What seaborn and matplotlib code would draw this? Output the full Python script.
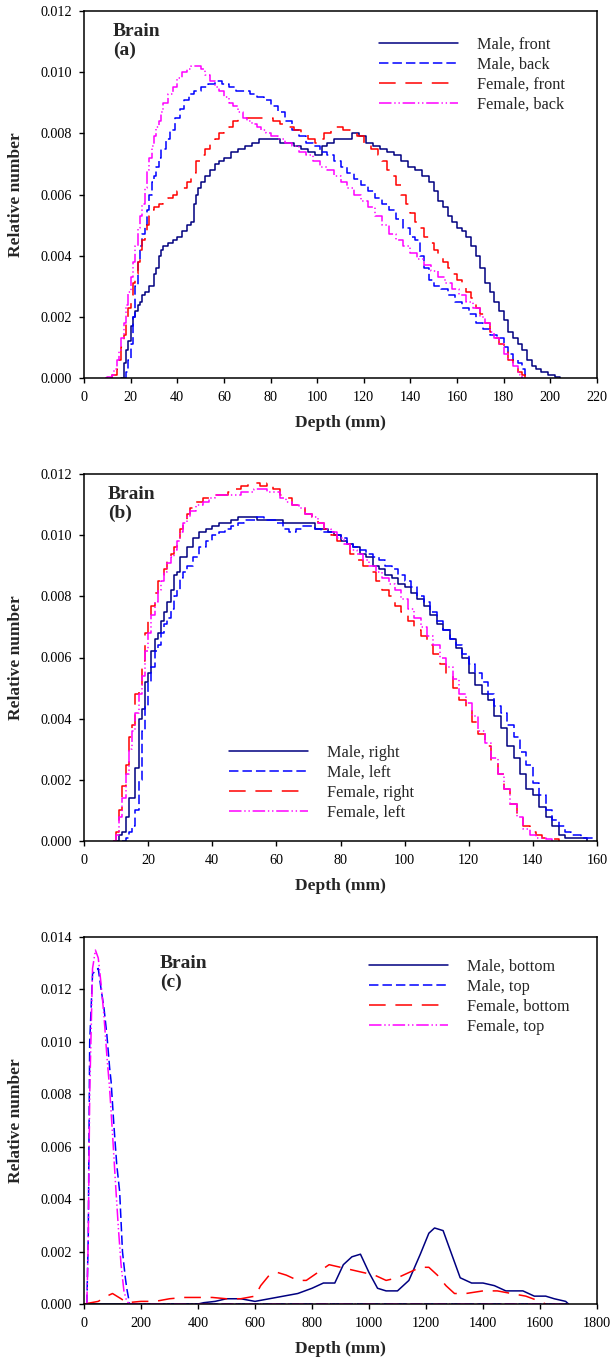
import matplotlib
matplotlib.use("Agg")
import matplotlib.pyplot as plt
import seaborn as sns

# ---------------- Panel (a): front / back ----------------
a_male_front_depth = [16, 17, 18, 19, 20, 21, 22, 23, 24, 25, 26, 28, 30, 31, 32, 33, 34, 36, 38, 40, 42, 44, 46, 47, 48, 49, 50, 52, 54, 56, 58, 60, 63, 66, 69, 72, 75, 78, 81, 84, 87, 90, 93, 96, 99, 101, 102, 104, 107, 110, 113, 115, 118, 121, 124, 127, 130, 133, 136, 139, 142, 145, 148, 150, 152, 154, 156, 158, 160, 162, 164, 166, 168, 170, 172, 174, 176, 178, 180, 182, 184, 186, 188, 190, 192, 194, 196, 199, 202, 204]
a_male_front_value = [0.0, 0.0005, 0.0009, 0.0012, 0.0017, 0.0020, 0.0022, 0.0024, 0.0025, 0.0027, 0.0028, 0.0030, 0.0034, 0.0036, 0.0040, 0.0042, 0.0043, 0.0044, 0.0045, 0.0046, 0.0048, 0.0050, 0.0051, 0.0057, 0.0060, 0.0062, 0.0064, 0.0066, 0.0068, 0.0070, 0.0071, 0.0072, 0.0074, 0.0075, 0.0076, 0.0077, 0.0078, 0.0078, 0.0078, 0.0077, 0.0077, 0.0076, 0.0075, 0.0074, 0.0073, 0.0073, 0.0076, 0.0077, 0.0078, 0.0078, 0.0078, 0.0080, 0.0079, 0.0077, 0.0076, 0.0075, 0.0074, 0.0073, 0.0071, 0.0069, 0.0068, 0.0066, 0.0064, 0.0061, 0.0058, 0.0056, 0.0053, 0.0051, 0.0049, 0.0048, 0.0046, 0.0043, 0.0040, 0.0036, 0.0031, 0.0028, 0.0025, 0.0022, 0.0019, 0.0015, 0.0013, 0.0011, 0.0009, 0.0006, 0.0004, 0.0003, 0.0002, 0.0001, 0.00003, 0.0]

a_male_back_depth = [17, 18, 19, 20, 21, 22, 23, 24, 25, 26, 27, 28, 29, 30, 31, 32, 33, 35, 37, 39, 41, 43, 45, 47, 50, 53, 56, 59, 62, 65, 68, 71, 74, 77, 80, 83, 86, 89, 92, 95, 98, 101, 104, 107, 110, 113, 116, 119, 122, 125, 128, 131, 134, 137, 140, 142, 144, 146, 148, 150, 153, 156, 159, 162, 165, 168, 171, 174, 177, 180, 182, 184, 186, 188, 189, 190]
a_male_back_value = [0.0, 0.0002, 0.0006, 0.0011, 0.0020, 0.0030, 0.0038, 0.0043, 0.0047, 0.0050, 0.0055, 0.0060, 0.0064, 0.0066, 0.0069, 0.0072, 0.0075, 0.0078, 0.0081, 0.0085, 0.0088, 0.0091, 0.0093, 0.0094, 0.0095, 0.0096, 0.0097, 0.0096, 0.0095, 0.0094, 0.0094, 0.0093, 0.0092, 0.0091, 0.0089, 0.0087, 0.0084, 0.0081, 0.0079, 0.0077, 0.0076, 0.0074, 0.0073, 0.0071, 0.0069, 0.0067, 0.0065, 0.0063, 0.0061, 0.0059, 0.0057, 0.0055, 0.0052, 0.0049, 0.0046, 0.0045, 0.0040, 0.0036, 0.0032, 0.0030, 0.0029, 0.0027, 0.0025, 0.0023, 0.0021, 0.0018, 0.0016, 0.0014, 0.0013, 0.0010, 0.0008, 0.0006, 0.0005, 0.0003, 0.0001, 0.0]

a_female_front_depth = [11, 12, 14, 15, 16, 17, 18, 19, 20, 21, 22, 23, 24, 25, 26, 27, 28, 29, 30, 32, 34, 36, 38, 40, 42, 44, 46, 48, 50, 52, 54, 56, 58, 60, 62, 64, 66, 69, 72, 75, 78, 81, 84, 87, 90, 93, 96, 99, 101, 103, 106, 109, 111, 114, 117, 120, 123, 126, 128, 130, 132, 134, 136, 138, 140, 142, 144, 146, 148, 150, 152, 154, 156, 158, 160, 162, 164, 166, 168, 170, 172, 174, 176, 178, 180, 182, 184, 186, 188, 189]
a_female_front_value = [0.0, 0.0001, 0.0003, 0.0006, 0.0010, 0.0014, 0.0018, 0.0023, 0.0027, 0.0031, 0.0034, 0.0038, 0.0042, 0.0045, 0.0048, 0.0050, 0.0053, 0.0055, 0.0056, 0.0057, 0.0058, 0.0059, 0.0060, 0.0061, 0.0062, 0.0064, 0.0067, 0.0071, 0.0073, 0.0075, 0.0077, 0.0078, 0.0080, 0.0081, 0.0082, 0.0084, 0.0085, 0.0085, 0.0085, 0.0085, 0.0085, 0.0084, 0.0083, 0.0082, 0.0081, 0.0080, 0.0078, 0.0077, 0.0078, 0.0080, 0.0082, 0.0082, 0.0081, 0.0080, 0.0079, 0.0077, 0.0075, 0.0073, 0.0071, 0.0068, 0.0066, 0.0063, 0.0060, 0.0057, 0.0054, 0.0051, 0.0049, 0.0046, 0.0044, 0.0042, 0.0040, 0.0038, 0.0036, 0.0034, 0.0032, 0.0030, 0.0028, 0.0026, 0.0023, 0.0021, 0.0018, 0.0015, 0.0013, 0.0011, 0.0009, 0.0006, 0.0004, 0.0002, 0.0001, 0.0]

a_female_back_depth = [9, 10, 12, 13, 14, 15, 16, 17, 18, 19, 20, 21, 22, 23, 24, 25, 26, 27, 28, 29, 30, 31, 32, 33, 34, 36, 38, 40, 42, 44, 46, 48, 50, 52, 54, 56, 58, 60, 62, 64, 66, 68, 70, 72, 74, 76, 78, 80, 83, 86, 89, 92, 95, 98, 101, 104, 107, 110, 113, 116, 119, 122, 125, 128, 131, 134, 137, 140, 143, 146, 149, 152, 155, 158, 161, 164, 167, 170, 172, 174, 176, 178, 180, 182, 184, 186, 187, 188]
a_female_back_value = [0.0, 0.00003, 0.0001, 0.0003, 0.0006, 0.0009, 0.0013, 0.0018, 0.0024, 0.0028, 0.0033, 0.0038, 0.0043, 0.0049, 0.0053, 0.0057, 0.0062, 0.0068, 0.0072, 0.0076, 0.0079, 0.0082, 0.0084, 0.0087, 0.0090, 0.0093, 0.0095, 0.0098, 0.0100, 0.0101, 0.0102, 0.0102, 0.0101, 0.0099, 0.0097, 0.0095, 0.0094, 0.0092, 0.0090, 0.0089, 0.0087, 0.0085, 0.0084, 0.0083, 0.0082, 0.0081, 0.0080, 0.0079, 0.0078, 0.0077, 0.0076, 0.0074, 0.0073, 0.0071, 0.0069, 0.0068, 0.0066, 0.0064, 0.0062, 0.0060, 0.0058, 0.0056, 0.0053, 0.0050, 0.0047, 0.0045, 0.0043, 0.0041, 0.0039, 0.0037, 0.0035, 0.0033, 0.0031, 0.0029, 0.0027, 0.0025, 0.0023, 0.0020, 0.0018, 0.0015, 0.0013, 0.0011, 0.0008, 0.0006, 0.0004, 0.0002, 0.0001, 0.0]

# ---------------- Panel (b): right / left ----------------
b_male_right_depth = [10, 11, 12, 13, 14, 16, 17, 18, 19, 20, 21, 22, 23, 24, 25, 26, 27, 28, 29, 30, 32, 34, 36, 38, 40, 42, 44, 46, 48, 50, 52, 54, 56, 58, 60, 62, 64, 66, 68, 70, 72, 74, 76, 78, 80, 82, 84, 86, 88, 90, 92, 94, 96, 98, 100, 102, 104, 106, 108, 110, 112, 114, 116, 118, 120, 122, 124, 126, 128, 130, 132, 134, 136, 138, 140, 142, 144, 146, 148, 150, 154, 157]
b_male_right_value = [0.0, 0.0002, 0.0003, 0.0008, 0.0014, 0.0024, 0.0040, 0.0043, 0.0052, 0.0055, 0.0062, 0.0066, 0.0068, 0.0072, 0.0075, 0.0078, 0.0082, 0.0087, 0.0088, 0.0093, 0.0096, 0.0099, 0.0101, 0.0102, 0.0103, 0.0104, 0.0104, 0.0105, 0.0106, 0.0106, 0.0106, 0.0105, 0.0105, 0.0105, 0.0105, 0.0104, 0.0104, 0.0104, 0.0104, 0.0104, 0.0102, 0.0102, 0.0101, 0.0100, 0.0098, 0.0097, 0.0096, 0.0094, 0.0093, 0.0090, 0.0089, 0.0087, 0.0086, 0.0084, 0.0083, 0.0081, 0.0079, 0.0077, 0.0074, 0.0071, 0.0069, 0.0066, 0.0063, 0.0060, 0.0055, 0.0051, 0.0048, 0.0046, 0.0041, 0.0037, 0.0031, 0.0027, 0.0022, 0.0017, 0.0015, 0.0011, 0.0008, 0.0005, 0.0002, 0.0001, 0.0001, 0.0]

b_male_left_depth = [12, 13, 14, 15, 16, 17, 18, 19, 20, 21, 22, 23, 24, 25, 26, 27, 28, 29, 30, 31, 32, 34, 36, 38, 40, 42, 44, 46, 48, 50, 52, 54, 56, 58, 60, 62, 64, 66, 68, 70, 72, 74, 76, 78, 80, 82, 84, 86, 88, 90, 92, 94, 96, 98, 100, 102, 104, 106, 108, 110, 112, 114, 116, 118, 120, 122, 124, 126, 128, 130, 132, 134, 136, 138, 140, 142, 144, 146, 148, 150, 152, 155, 159]
b_male_left_value = [0.0, 0.0001, 0.0003, 0.0005, 0.0010, 0.0020, 0.0036, 0.0044, 0.0052, 0.0057, 0.0062, 0.0064, 0.0068, 0.0071, 0.0073, 0.0076, 0.0080, 0.0082, 0.0086, 0.0088, 0.0090, 0.0093, 0.0096, 0.0098, 0.0100, 0.0101, 0.0102, 0.0103, 0.0104, 0.0105, 0.0105, 0.0106, 0.0105, 0.0105, 0.0104, 0.0102, 0.0101, 0.0102, 0.0103, 0.0103, 0.0102, 0.0101, 0.0101, 0.0100, 0.0099, 0.0097, 0.0096, 0.0095, 0.0094, 0.0093, 0.0092, 0.0090, 0.0089, 0.0087, 0.0085, 0.0083, 0.0080, 0.0078, 0.0075, 0.0072, 0.0069, 0.0066, 0.0064, 0.0061, 0.0058, 0.0055, 0.0052, 0.0048, 0.0044, 0.0042, 0.0038, 0.0034, 0.0029, 0.0025, 0.0019, 0.0015, 0.0010, 0.0007, 0.0005, 0.0003, 0.0002, 0.0001, 0.0]

b_female_right_depth = [9, 10, 11, 12, 13, 14, 15, 16, 17, 18, 19, 20, 21, 22, 23, 24, 25, 26, 27, 28, 29, 30, 31, 32, 33, 35, 37, 39, 41, 43, 45, 47, 49, 51, 53, 55, 57, 59, 61, 63, 65, 67, 69, 71, 73, 75, 77, 79, 81, 83, 85, 87, 89, 91, 93, 95, 97, 99, 101, 103, 105, 107, 109, 111, 113, 115, 117, 119, 121, 123, 125, 127, 129, 131, 133, 135, 137, 139, 141, 143, 146, 148]
b_female_right_value = [0.0, 0.0003, 0.0010, 0.0018, 0.0025, 0.0034, 0.0038, 0.0048, 0.0051, 0.0059, 0.0068, 0.0073, 0.0077, 0.0081, 0.0085, 0.0087, 0.0089, 0.0092, 0.0094, 0.0096, 0.0099, 0.0102, 0.0105, 0.0107, 0.0109, 0.0111, 0.0112, 0.0113, 0.0113, 0.0113, 0.0114, 0.0115, 0.0116, 0.0117, 0.0117, 0.0116, 0.0117, 0.0115, 0.0113, 0.0112, 0.0110, 0.0109, 0.0107, 0.0106, 0.0104, 0.0102, 0.0100, 0.0098, 0.0097, 0.0094, 0.0092, 0.0090, 0.0088, 0.0085, 0.0082, 0.0080, 0.0077, 0.0075, 0.0072, 0.0069, 0.0067, 0.0064, 0.0061, 0.0058, 0.0054, 0.0050, 0.0046, 0.0043, 0.0039, 0.0035, 0.0031, 0.0026, 0.0022, 0.0017, 0.0012, 0.0008, 0.0005, 0.0003, 0.0002, 0.0001, 0.00005, 0.0]

b_female_left_depth = [9, 10, 11, 12, 13, 14, 15, 16, 17, 18, 19, 20, 21, 22, 23, 24, 25, 26, 27, 28, 29, 30, 31, 32, 33, 35, 37, 39, 41, 43, 45, 47, 49, 51, 53, 55, 57, 59, 61, 63, 65, 67, 69, 71, 73, 75, 77, 79, 81, 83, 85, 87, 89, 91, 93, 95, 97, 99, 101, 103, 105, 107, 109, 111, 113, 115, 117, 119, 121, 123, 125, 127, 129, 131, 133, 135, 137, 139, 141, 144, 146]
b_female_left_value = [0.0, 0.0002, 0.0008, 0.0014, 0.0022, 0.0030, 0.0036, 0.0042, 0.0048, 0.0054, 0.0062, 0.0068, 0.0074, 0.0078, 0.0082, 0.0085, 0.0088, 0.0091, 0.0093, 0.0095, 0.0098, 0.0101, 0.0104, 0.0106, 0.0108, 0.0110, 0.0111, 0.0112, 0.0113, 0.0113, 0.0113, 0.0113, 0.0114, 0.0114, 0.0115, 0.0115, 0.0114, 0.0114, 0.0112, 0.0111, 0.0110, 0.0109, 0.0107, 0.0106, 0.0104, 0.0102, 0.0101, 0.0099, 0.0097, 0.0095, 0.0094, 0.0092, 0.0090, 0.0088, 0.0086, 0.0084, 0.0082, 0.0079, 0.0076, 0.0073, 0.0070, 0.0067, 0.0064, 0.0060, 0.0057, 0.0053, 0.0048, 0.0045, 0.0041, 0.0036, 0.0032, 0.0027, 0.0022, 0.0017, 0.0012, 0.0008, 0.0004, 0.0002, 0.0001, 0.00005, 0.0]

# ---------------- Panel (c): bottom / top ----------------
c_male_bottom_depth = [0, 400, 420, 460, 500, 550, 600, 650, 700, 750, 800, 840, 880, 910, 940, 970, 1000, 1030, 1060, 1100, 1140, 1180, 1210, 1230, 1260, 1290, 1320, 1360, 1400, 1440, 1480, 1540, 1580, 1620, 1650, 1690, 1700]
c_male_bottom_value = [0.0, 0.0, 0.00005, 0.0001, 0.0002, 0.0002, 0.0001, 0.0002, 0.0003, 0.0004, 0.0006, 0.0008, 0.0008, 0.0015, 0.0018, 0.0019, 0.0012, 0.0006, 0.0005, 0.0005, 0.0009, 0.0019, 0.0027, 0.0029, 0.0028, 0.0019, 0.0010, 0.0008, 0.0008, 0.0007, 0.0005, 0.0005, 0.0003, 0.0003, 0.0002, 0.0001, 0.0]

c_male_top_depth = [10, 15, 20, 30, 40, 50, 60, 70, 80, 90, 95, 105, 115, 125, 135, 145, 150, 160, 1700]
c_male_top_value = [0.0, 0.0026, 0.0100, 0.0126, 0.0127, 0.0128, 0.0120, 0.0113, 0.0103, 0.0090, 0.0085, 0.0068, 0.0053, 0.0043, 0.0020, 0.0010, 0.0006, 0.0, 0.0]

c_female_bottom_depth = [0, 50, 80, 100, 130, 150, 200, 250, 300, 350, 400, 450, 500, 550, 600, 620, 650, 680, 710, 750, 780, 820, 860, 900, 940, 980, 1020, 1060, 1100, 1140, 1180, 1210, 1240, 1270, 1300, 1340, 1400, 1450, 1500, 1550, 1600, 1620]
c_female_bottom_value = [0.0, 0.0001, 0.0003, 0.0004, 0.0002, 0.00005, 0.0001, 0.0001, 0.0002, 0.00025, 0.00025, 0.00025, 0.0002, 0.0002, 0.0003, 0.0007, 0.0011, 0.0012, 0.0011, 0.0009, 0.0009, 0.0012, 0.0015, 0.0014, 0.0013, 0.0012, 0.0011, 0.0009, 0.0010, 0.0012, 0.0014, 0.0014, 0.0011, 0.0007, 0.0004, 0.0004, 0.0005, 0.0005, 0.0004, 0.0003, 0.0001, 0.0]

c_female_top_depth = [10, 15, 20, 30, 40, 50, 60, 70, 80, 90, 100, 110, 120, 130, 140, 150, 160, 1700]
c_female_top_value = [0.0, 0.0025, 0.0080, 0.0128, 0.0135, 0.0132, 0.0122, 0.0110, 0.0095, 0.0082, 0.0065, 0.0047, 0.0030, 0.0015, 0.0005, 0.0001, 0.0, 0.0]

# tick labels / axis ranges
a_xticks = list(range(0, 221, 20))
b_xticks = list(range(0, 161, 20))
c_xticks = list(range(0, 1801, 200))
ab_yticks = [0.000, 0.002, 0.004, 0.006, 0.008, 0.010, 0.012]
c_yticks = [0.000, 0.002, 0.004, 0.006, 0.008, 0.010, 0.012, 0.014]

# ---------------- styling ----------------
sns.set_theme(style="ticks")
plt.rcParams["font.family"] = ["Liberation Serif", "DejaVu Serif"]
plt.rcParams["lines.scale_dashes"] = False
plt.rcParams["axes.edgecolor"] = "black"
plt.rcParams["axes.linewidth"] = 1.1
plt.rcParams["xtick.color"] = "black"
plt.rcParams["ytick.color"] = "black"
plt.rcParams["xtick.major.size"] = 3.6
plt.rcParams["ytick.major.size"] = 3.6
plt.rcParams["xtick.major.width"] = 1.0
plt.rcParams["ytick.major.width"] = 1.0
plt.rcParams["xtick.major.pad"] = 5.5
plt.rcParams["ytick.major.pad"] = 5.0
plt.rcParams["xtick.labelsize"] = 10.2
plt.rcParams["ytick.labelsize"] = 10.2

NAVY, BLUE, RED, MAGENTA = "#000080", "#0000FF", "#FF0000", "#FF00FF"
LS_SOLID = "-"
LS_DASH = (0, (6.8, 2.9))
LS_LONG = (0, (12, 7))
LS_DDOT = (0, (9, 2, 1, 2, 1, 2))

fig = plt.figure(figsize=(6.1, 13.58), dpi=100)
left, width, height = 84 / 610, 513 / 610, 367 / 1358
ax_a = fig.add_axes([left, 1 - 378 / 1358, width, height])
ax_b = fig.add_axes([left, 1 - 841 / 1358, width, height])
ax_c = fig.add_axes([left, 1 - 1304 / 1358, width, height])

def draw(ax, x, y, color, ls, steps):
    sns.lineplot(x=x, y=y, ax=ax, color=color, linestyle=ls, linewidth=1.1,
                 drawstyle="steps-post" if steps else "default",
                 estimator=None, errorbar=None, sort=False, legend=False)

panels = [
    (ax_a, "(a)", [
        ("Male, front", a_male_front_depth, a_male_front_value, NAVY, LS_SOLID),
        ("Male, back", a_male_back_depth, a_male_back_value, BLUE, LS_DASH),
        ("Female, front", a_female_front_depth, a_female_front_value, RED, LS_LONG),
        ("Female, back", a_female_back_depth, a_female_back_value, MAGENTA, LS_DDOT),
    ], True, (0, 220), a_xticks, (0, 0.012), ab_yticks, (0.0565, 0.967), (0.575, 0.93)),
    (ax_b, "(b)", [
        ("Male, right", b_male_right_depth, b_male_right_value, NAVY, LS_SOLID),
        ("Male, left", b_male_left_depth, b_male_left_value, BLUE, LS_DASH),
        ("Female, right", b_female_right_depth, b_female_right_value, RED, LS_LONG),
        ("Female, left", b_female_left_depth, b_female_left_value, MAGENTA, LS_DDOT),
    ], True, (0, 160), b_xticks, (0, 0.012), ab_yticks, (0.047, 0.967), (0.283, 0.262)),
    (ax_c, "(c)", [
        ("Male, bottom", c_male_bottom_depth, c_male_bottom_value, NAVY, LS_SOLID),
        ("Male, top", c_male_top_depth, c_male_top_value, BLUE, LS_DASH),
        ("Female, bottom", c_female_bottom_depth, c_female_bottom_value, RED, LS_LONG),
        ("Female, top", c_female_top_depth, c_female_top_value, MAGENTA, LS_DDOT),
    ], False, (0, 1800), c_xticks, (0, 0.014), c_yticks, (0.148, 0.951), (0.556, 0.94)),
]

for ax, tag, series, steps, xlim, xt, ylim, yt, txt_pos, leg_pos in panels:
    for label, x, y, color, ls in series:
        draw(ax, x, y, color, ls, steps)
    lines = ax.get_lines()
    ax.legend(lines, [s[0] for s in series], loc="upper left", bbox_to_anchor=leg_pos,
              frameon=False, fontsize=11.7, handlelength=4.86, handletextpad=1.15,
              labelspacing=0.24, borderaxespad=0, borderpad=0)
    ax.set_xlim(*xlim)
    ax.set_ylim(*ylim)
    ax.set_xticks(xt)
    ax.set_yticks(yt)
    ax.set_xticklabels([str(v) for v in xt])
    ax.set_yticklabels([f"{v:.3f}" for v in yt])
    for s in ["top", "right", "left", "bottom"]:
        ax.spines[s].set_visible(True)
        ax.spines[s].set_color("black")
    ax.tick_params(direction="out", top=False, right=False)
    ax.set_xlabel("Depth (mm)", fontsize=12.5, fontweight="bold")
    ax.set_ylabel("Relative number", fontsize=12.5, fontweight="bold")
    ax.xaxis.set_label_coords(0.5, -0.101)
    ax.yaxis.set_label_coords(-0.117, 0.5)
    ax.text(txt_pos[0], txt_pos[1], "Brain\n" + tag, transform=ax.transAxes,
            fontsize=14, fontweight="bold", va="top", ha="left", linespacing=1.1)

fig.savefig("out.png", dpi=100)
